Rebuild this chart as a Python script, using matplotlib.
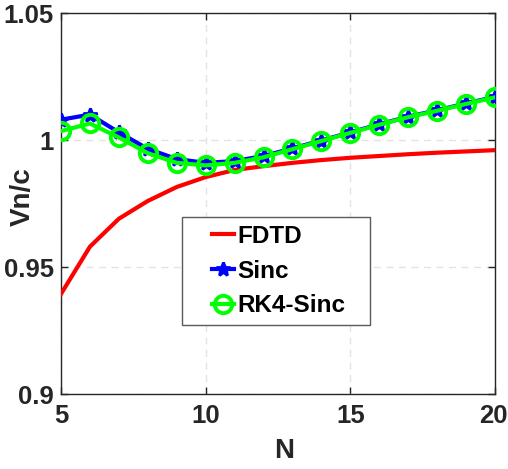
import matplotlib
matplotlib.use("Agg")
import matplotlib.pyplot as plt
from matplotlib.patches import Rectangle
from matplotlib.transforms import ScaledTranslation

plt.rcParams['font.family'] = ['Liberation Sans', 'DejaVu Sans']
plt.rcParams['font.weight'] = 'bold'

N = [5, 6, 7, 8, 9, 10, 11, 12, 13, 14, 15, 16, 17, 18, 19, 20]
fdtd = [0.9394, 0.9580, 0.9690, 0.9760, 0.9815, 0.9854, 0.9882, 0.9897, 0.9910, 0.9921, 0.9930, 0.9937, 0.9944, 0.9950, 0.9955, 0.9960]
sinc = [1.0080, 1.0100, 1.0030, 0.9965, 0.9925, 0.9910, 0.9917, 0.9937, 0.9967, 0.9998, 1.0030, 1.0062, 1.0092, 1.0117, 1.0144, 1.0170]
rk4 = [1.0035, 1.0065, 1.0010, 0.9948, 0.9910, 0.9900, 0.9910, 0.9932, 0.9964, 0.9996, 1.0028, 1.0060, 1.0090, 1.0115, 1.0142, 1.0168]

xticks = [5, 10, 15, 20]
yticks = [0.9, 0.95, 1.0, 1.05]
yticklabels = ['0.9', '0.95', '1', '1.05']

W, H = 508, 469
L, R, T, B = 61, 495, 13, 394
fig = plt.figure(figsize=(W/100, H/100), dpi=100)
ax = fig.add_axes([L/W, 1-B/H, (R-L)/W, (B-T)/H])

tc = '#262626'
ax.plot(N, fdtd, color='red', lw=3, label='FDTD', zorder=3)
ax.plot(N, sinc, color='blue', lw=3, marker='*', ms=10, mew=2, label='Sinc', zorder=3)
ax.plot(N, rk4, color='#00ff00', lw=3, marker='o', ms=12.5, mfc='none', mew=2.8, label='RK4-Sinc', zorder=3)

ax.set_xlim(5, 20)
ax.set_ylim(0.9, 1.05)
ax.set_xticks(xticks)
ax.set_yticks(yticks)
ax.set_yticklabels(yticklabels)
ax.tick_params(direction='in', labelsize=18.5, length=5, width=1, top=True, right=True,
               colors=tc, pad=5)
ax.tick_params(axis='x', pad=7)
for s in ax.spines.values():
    s.set_linewidth(1)
    s.set_color(tc)
ax.grid(True, ls=(0, (5, 4)), color='#e3e3e3', lw=1)
ax.set_xlabel('N', fontsize=20, fontweight='bold', color=tc)
ax.set_ylabel('Vn/c', fontsize=20, fontweight='bold', color=tc)
ax.xaxis.set_label_coords((284-L)/(R-L), (B-438)/(B-T))
ax.yaxis.set_label_coords((36-L)/(R-L), (B-197)/(B-T))

# shift last x tick label slightly left (MATLAB keeps it inside the figure)
fig.canvas.draw()
lab = ax.get_xticklabels()[-1]
lab.set_transform(lab.get_transform() + ScaledTranslation(-2/100, 0, fig.dpi_scale_trans))

# legend frame
lx0, ly0, lx1, ly1 = 182, 217, 370, 325
ax.add_patch(Rectangle(((lx0-L)/(R-L), (B-ly1)/(B-T)), (lx1-lx0)/(R-L), (ly1-ly0)/(B-T),
                       transform=ax.transAxes, facecolor='white', edgecolor='#5a5a5a',
                       lw=1, zorder=4))
leg = ax.legend(loc='upper left', bbox_to_anchor=((212-L)/(R-L), (B-225)/(B-T)),
                fontsize=17.5, handlelength=0.9, handletextpad=0.15, borderpad=0,
                borderaxespad=0, labelspacing=0.48, frameon=False, numpoints=1)
leg.set_zorder(5)
for t in leg.get_texts():
    t.set_color('black')

fig.savefig('out.png', dpi=100)
